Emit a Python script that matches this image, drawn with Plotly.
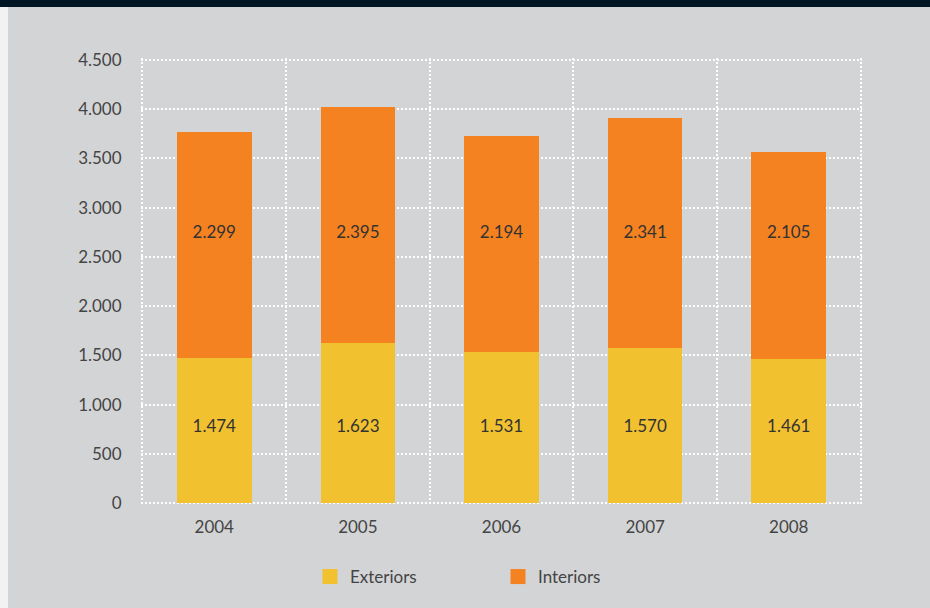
import plotly.graph_objects as go

# Yearly figures, split into exterior and interior
years = ["2004", "2005", "2006", "2007", "2008"]
exteriors = [1474, 1623, 1531, 1570, 1461]
interiors = [2299, 2395, 2194, 2341, 2105]
y_ticks = [0, 500, 1000, 1500, 2000, 2500, 3000, 3500, 4000, 4500]

YELLOW = "#f1c12f"
ORANGE = "#f58220"
BG = "#d3d4d6"
TXT = "#444444"
FONT = "Lato"

W, H = 930, 608
L, R, T, B = 141, 68, 58, 103
pw, ph = W - L - R, H - T - B


def fmt(v):
    return f"{v:,}".replace(",", ".")


x = list(range(len(years)))

fig = go.Figure()
fig.add_bar(x=x, y=exteriors, name="Exteriors", marker=dict(color=YELLOW, line_width=0),
            width=0.52, hoverinfo="skip", showlegend=False)
fig.add_bar(x=x, y=interiors, name="Interiors", marker=dict(color=ORANGE, line_width=0),
            width=0.52, hoverinfo="skip", showlegend=False)

# value labels sit at a fixed height inside each segment
fig.add_scatter(x=x, y=[760] * len(x), mode="text", text=[fmt(v) for v in exteriors],
                textfont=dict(family=FONT, size=17, color="#333333"), showlegend=False,
                hoverinfo="skip")
fig.add_scatter(x=x, y=[2740] * len(x), mode="text", text=[fmt(v) for v in interiors],
                textfont=dict(family=FONT, size=17, color="#333333"), showlegend=False,
                hoverinfo="skip")

# legend keys as square swatches
for name, col in (("Exteriors", YELLOW), ("Interiors", ORANGE)):
    fig.add_scatter(x=[None], y=[None], mode="markers", name=name,
                    marker=dict(symbol="square", size=15, color=col, line_width=0))

grid = dict(gridcolor="white", gridwidth=2, griddash="2px,2px")

fig.update_layout(
    width=W, height=H,
    margin=dict(l=L, r=R, t=T, b=B, pad=0),
    barmode="stack",
    paper_bgcolor=BG, plot_bgcolor=BG,
    separators=",.",
    font=dict(family=FONT, size=17, color=TXT),
    xaxis=dict(range=[-0.51, 4.51], tickvals=x, ticktext=years, showgrid=False,
               zeroline=False, showline=False, ticks="outside", ticklen=7,
               tickcolor="rgba(0,0,0,0)",
               minor=dict(tick0=-0.5, dtick=1, showgrid=True, **grid)),
    yaxis=dict(range=[-20, 4520], tickvals=y_ticks, tickformat=",d", zeroline=False,
               showline=False, ticks="outside", ticklen=15, tickcolor="rgba(0,0,0,0)",
               **grid),
    legend=dict(orientation="h", x=(310 - L) / pw, xanchor="left",
                yref="container", y=(H - 559) / H, yanchor="top",
                entrywidth=143, entrywidthmode="pixels",
                font=dict(family=FONT, size=17, color=TXT), traceorder="normal",
                bgcolor="rgba(0,0,0,0)"),
    shapes=[
        dict(type="rect", xref="paper", yref="paper", x0=-L / pw, x1=1 + R / pw,
             y0=1 + (T - 7) / ph, y1=1 + T / ph + 0.01, fillcolor="#011624",
             line_width=0, layer="above"),
        dict(type="rect", xref="paper", yref="paper", x0=-L / pw, x1=(8 - L) / pw,
             y0=-B / ph - 0.01, y1=1 + (T - 7) / ph, fillcolor="#f2f2f2",
             line_width=0, layer="above"),
    ],
)

fig.write_html("out.html")
